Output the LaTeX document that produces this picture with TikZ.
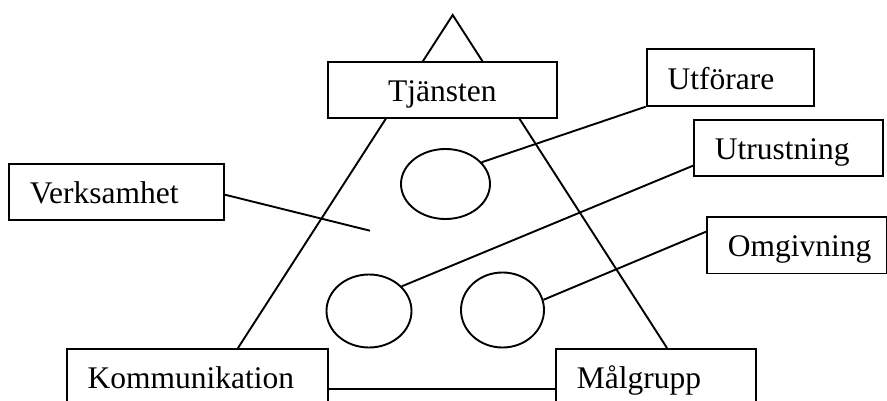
\documentclass[tikz,border=0pt]{standalone}
\usepackage{fontspec}
\setmainfont{Liberation Serif}
\usetikzlibrary{shapes.geometric}
\begin{document}
\begin{tikzpicture}[x=1pt,y=-1pt,
  lw/.style={line width=1.9pt},
  box/.style={draw,lw,fill=white,anchor=north west,inner xsep=21pt,inner ysep=0pt,
    text height=40pt,text depth=16.5pt,align=left,font=\fontsize{31.5}{38}\selectfont},
  oval/.style={draw,lw,ellipse,inner sep=0pt},
  link/.style={lw}]
\useasboundingbox (0,0) rectangle (887,401);
\clip (0,0) rectangle (887,401);
\fill[white] (0,0) rectangle (887,401);
% triangle sides
\coordinate (apex) at (452.7,15);
\coordinate (bl) at (238,348);
\coordinate (br) at (667,348);
\draw[link] (bl) -- (apex) -- (br);
% ovals
\node[oval,minimum width=89pt,minimum height=70pt] (e1) at (445.5,184) {};
\node[oval,minimum width=85pt,minimum height=73pt] (e2) at (369,311) {};
\node[oval,minimum width=83pt,minimum height=75pt] (e3) at (502.5,310) {};
% boxes
\node[box,text width=187pt,align=center] (tj) at (327,61) {Tjänsten};
\node[box,text width=173pt] (ver) at (8,163) {Verksamhet};
\node[box,text width=125pt] (utf) at (645.7,48.3) {Utförare};
\node[box,text width=147pt] (utr) at (693,119) {Utrustning};
\node[box,text width=138pt] (omg) at (706,216) {Omgivning};
\node[box,text width=219pt] (kom) at (65.7,347.7) {Kommunikation};
\node[box,text width=158pt] (mal) at (555,347.7) {Målgrupp};
% connectors
\coordinate (vend) at (370,230.7);
\draw[link] ([yshift=-2.5pt]ver.east) -- (vend);
\draw[link] (utf.south west) -- (e1.31);
\draw[link] ([yshift=11.7pt]utr.south west) -- (e2.37);
\draw[link] ([yshift=-15.7pt]omg.north west) -- (e3.14);
\draw[link] (kom.base east) -- (mal.base west);
\end{tikzpicture}
\end{document}
